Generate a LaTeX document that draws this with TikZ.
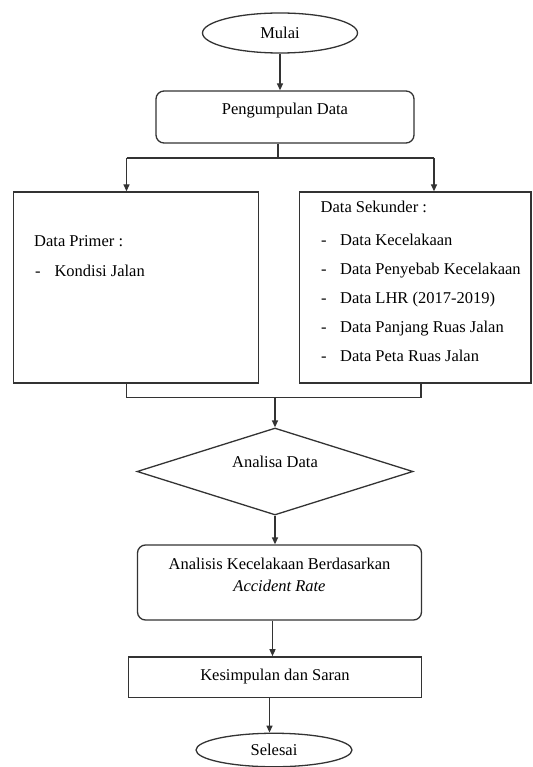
\documentclass[tikz,border=0pt]{standalone}
\usepackage{fontspec}
\setmainfont{Liberation Serif}
\usetikzlibrary{calc,shapes.geometric,arrows.meta}
\tikzset{
  ln/.style={draw=black!80, line width=1.3pt},
  arr/.style={ln, -{Triangle[length=7pt,width=6pt]}},
  lab/.style={font=\fontsize{16.5}{21.7}\selectfont, inner sep=0pt},
  term/.style={ln, lab, ellipse},
  roundbox/.style={ln, lab, rectangle, rounded corners=8pt},
  plainbox/.style={ln, lab, rectangle},
  decision/.style={ln, lab, diamond, aspect=3},
}

\begin{document}
\begin{tikzpicture}[x=1pt, y=-1pt]
  \useasboundingbox (0,0) rectangle (532,767);

  \node[term, minimum width=155pt, minimum height=40pt] (mulai) at (280,33) {Mulai};
  \node[roundbox, minimum width=258pt, minimum height=52pt, text height=12pt, text depth=16pt] (kumpul) at (285,117) {Pengumpulan Data};
  \node[plainbox, minimum width=245pt, minimum height=191pt] (primer) at (136,287.5) {};
  \node[plainbox, minimum width=231.5pt, minimum height=191pt] (sekunder) at (415.25,287.5) {};
  \node[decision, minimum width=276pt, minimum height=87pt, text height=11pt, text depth=19.5pt] (analisa) at (275,471.5) {Analisa Data};
  \node[roundbox, minimum width=284pt, minimum height=75pt] (analisis) at (279.5,582.5) {};
  \node[plainbox, minimum width=293.4pt, minimum height=40.3pt] (kesimpulan) at (275,677) {Kesimpulan dan Saran};
  \node[term, minimum width=156pt, minimum height=33.5pt] (selesai) at (274,750) {Selesai};

  \node[lab, anchor=base west] (primerH) at (34,246) {Data Primer :};
  \node[lab, anchor=base west] (primerD) at (35,276) {-};
  \node[lab, anchor=base west] (primer1) at (54.3,276) {Kondisi Jalan};

  \node[lab, anchor=base west] (sekunderH) at (320.5,212) {Data Sekunder :};
  \foreach \txt [count=\i] in {Data Kecelakaan, Data Penyebab Kecelakaan, Data LHR (2017-2019), Data Panjang Ruas Jalan, Data Peta Ruas Jalan} {
    \node[lab, anchor=base west] (dash\i) at (321,{245+(\i-1)*29.2}) {-};
    \node[lab, anchor=base west] (sek\i) at (340,{245+(\i-1)*29.2}) {\txt};
  }

  \node[lab, align=center, anchor=north] (analisisT) at ($(analisis.center)+(0,-24.5)$) {Analisis Kecelakaan Berdasarkan\\\textit{Accident Rate}};

  \coordinate (splitM) at (278,158);
  \coordinate (splitL) at (126.5,158);
  \coordinate (splitR) at (434,158);
  \coordinate (joinL) at (126.7,397.3);
  \coordinate (joinR) at (421,397.3);
  \coordinate (a2k) at ([xshift=-7pt]analisis.south);
  \coordinate (k2s) at ([xshift=-5.5pt]kesimpulan.south);

  \draw[arr] (mulai.south) -- (mulai.south |- kumpul.north);
  \draw[ln] (kumpul.south -| splitM) -- (splitM);
  \draw[ln] (splitL) -- (splitR);
  \draw[arr] (splitL) -- (splitL |- primer.north);
  \draw[arr] (splitR) -- (splitR |- sekunder.north);
  \draw[ln] (primer.south -| joinL) -- (joinL) -- (joinR) -- (sekunder.south -| joinR);
  \draw[arr] (joinL -| analisa.north) -- (analisa.north);
  \draw[arr] (analisa.south) -- (analisa.south |- analisis.north);
  \draw[arr] (a2k) -- (a2k |- kesimpulan.north);
  \draw[arr] (k2s) -- (k2s |- selesai.north);
\end{tikzpicture}
\end{document}
